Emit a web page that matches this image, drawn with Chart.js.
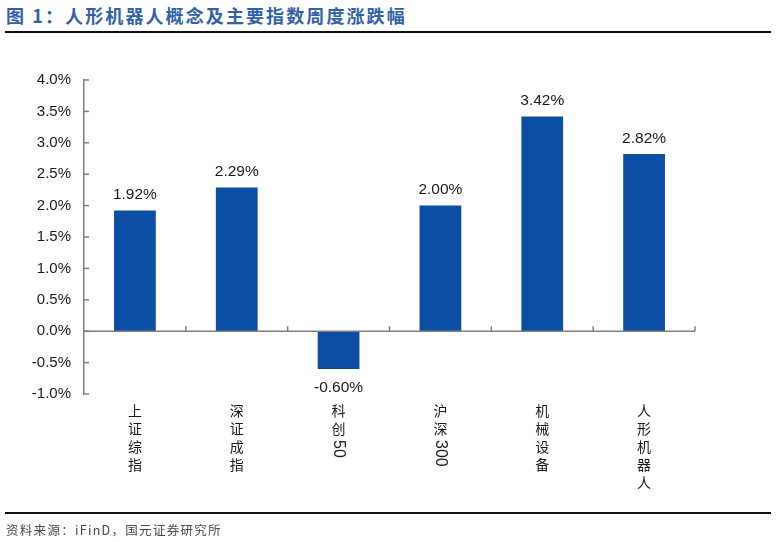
<!DOCTYPE html>
<html>
<head>
<meta charset="utf-8">
<script src="https://cdn.jsdelivr.net/npm/chart.js@4.4.1/dist/chart.umd.min.js"></script>
<style>
  body { margin: 0; width: 776px; height: 542px; background: #fff; position: relative; overflow: hidden; }
  #title { position: absolute; left: 6px; top: 2px; font: bold 18px "Noto Sans CJK SC"; color: #3462a8; letter-spacing: 2.1px; white-space: nowrap; }
  #topline { position: absolute; left: 5px; top: 31px; width: 766px; height: 2px; background: #111; }
  #botline { position: absolute; left: 5px; top: 512px; width: 766px; height: 2px; background: #111; }
  #source { position: absolute; left: 6px; top: 520px; font: 12.5px "Noto Sans CJK SC"; color: #4a4a4a; letter-spacing: 1.3px; white-space: nowrap; }
  #wrap { position: absolute; left: 0; top: 0; width: 776px; height: 542px; }
</style>
</head>
<body>
<div id="title">图 1：人形机器人概念及主要指数周度涨跌幅</div>
<div id="topline"></div>
<div id="wrap"><canvas id="chart"></canvas></div>
<div id="botline"></div>
<div id="source">资料来源：iFinD，国元证券研究所</div>
<script>
const categories = ['上证综指', '深证成指', '科创50', '沪深300', '机械设备', '人形机器人'];
const weeklyChange = [1.92, 2.29, -0.60, 2.00, 3.42, 2.82];
const yMin = -1.0;
const yMax = 4.0;
const yStep = 0.5;

const axisColor = '#808080';
const barColor = '#0c4ea3';

//--------------- ticks, zero line, labels ---------------//
const extras = {
  id: 'extras',
  afterDatasetsDraw(chart) {
    const ctx = chart.ctx;
    const xs = chart.scales.x;
    const ys = chart.scales.y;
    const area = chart.chartArea;
    const y0 = ys.getPixelForValue(0);
    const catW = xs.width / categories.length;

    ctx.save();
    ctx.strokeStyle = axisColor;
    ctx.lineWidth = 1.5;
    // zero line
    ctx.beginPath();
    ctx.moveTo(area.left, y0);
    ctx.lineTo(area.right, y0);
    ctx.stroke();
    // x ticks (pointing up)
    for (let i = 1; i <= categories.length; i++) {
      const x = xs.left + i * catW;
      ctx.beginPath();
      ctx.moveTo(x, y0);
      ctx.lineTo(x, y0 - 5);
      ctx.stroke();
    }
    // y ticks (pointing right)
    ys.ticks.forEach(t => {
      const y = ys.getPixelForValue(t.value);
      ctx.beginPath();
      ctx.moveTo(area.left, y);
      ctx.lineTo(area.left + 5, y);
      ctx.stroke();
    });

    // value labels
    ctx.fillStyle = '#1a1a1a';
    ctx.font = '15.5px "Liberation Sans", Arial, sans-serif';
    ctx.textAlign = 'center';
    const meta = chart.getDatasetMeta(0);
    meta.data.forEach((bar, i) => {
      const v = weeklyChange[i];
      const txt = v.toFixed(2) + '%';
      if (v >= 0) {
        ctx.textBaseline = 'bottom';
        ctx.fillText(txt, bar.x, bar.y - 8);
      } else {
        ctx.textBaseline = 'top';
        ctx.fillText(txt, bar.x, bar.y + 11);
      }
    });

    // vertical category labels
    ctx.fillStyle = '#1a1a1a';
    categories.forEach((label, i) => {
      const x = xs.getPixelForValue(i);
      let y = 404;
      const parts = label.match(/[0-9]+|./g);
      parts.forEach(p => {
        if (/^[0-9]+$/.test(p)) {
          ctx.font = '16px "Liberation Sans", Arial, sans-serif';
          const w = ctx.measureText(p).width;
          ctx.save();
          ctx.translate(x, y);
          ctx.rotate(Math.PI / 2);
          ctx.textAlign = 'left';
          ctx.textBaseline = 'middle';
          ctx.fillText(p, 0, 0);
          ctx.restore();
          y += w + 2;
        } else {
          ctx.font = '14px "Noto Sans CJK SC"';
          ctx.textAlign = 'center';
          ctx.textBaseline = 'top';
          ctx.fillText(p, x, y);
          y += 18;
        }
      });
    });
    ctx.restore();
  }
};

const chart = new Chart(
  document.getElementById('chart'),
  {
    type: 'bar',
    data: {
      labels: categories,
      datasets: [
        {
          data: weeklyChange,
          backgroundColor: barColor,
          borderWidth: 0,
          categoryPercentage: 1.0,
          barPercentage: 0.41
        }
      ]
    },
    options: {
      responsive: true,
      maintainAspectRatio: false,
      animation: false,
      layout: { padding: { top: 80, right: 81, left: 0, bottom: 0 } },
      plugins: {
        legend: { display: false },
        tooltip: { enabled: false }
      },
      scales: {
        x: {
          grid: { display: false },
          border: { display: false },
          ticks: { display: false },
          afterFit: s => { s.height = 148; }
        },
        y: {
          min: yMin,
          max: yMax,
          grid: { display: false, drawTicks: false },
          border: { display: true, color: axisColor, width: 1.5 },
          ticks: {
            stepSize: yStep,
            padding: 13,
            color: '#1a1a1a',
            font: { family: '"Liberation Sans", Arial, sans-serif', size: 15 },
            callback: v => v.toFixed(1) + '%'
          },
          afterFit: s => { s.width = 84; }
        }
      }
    },
    plugins: [extras]
  }
);
</script>
</body>
</html>
